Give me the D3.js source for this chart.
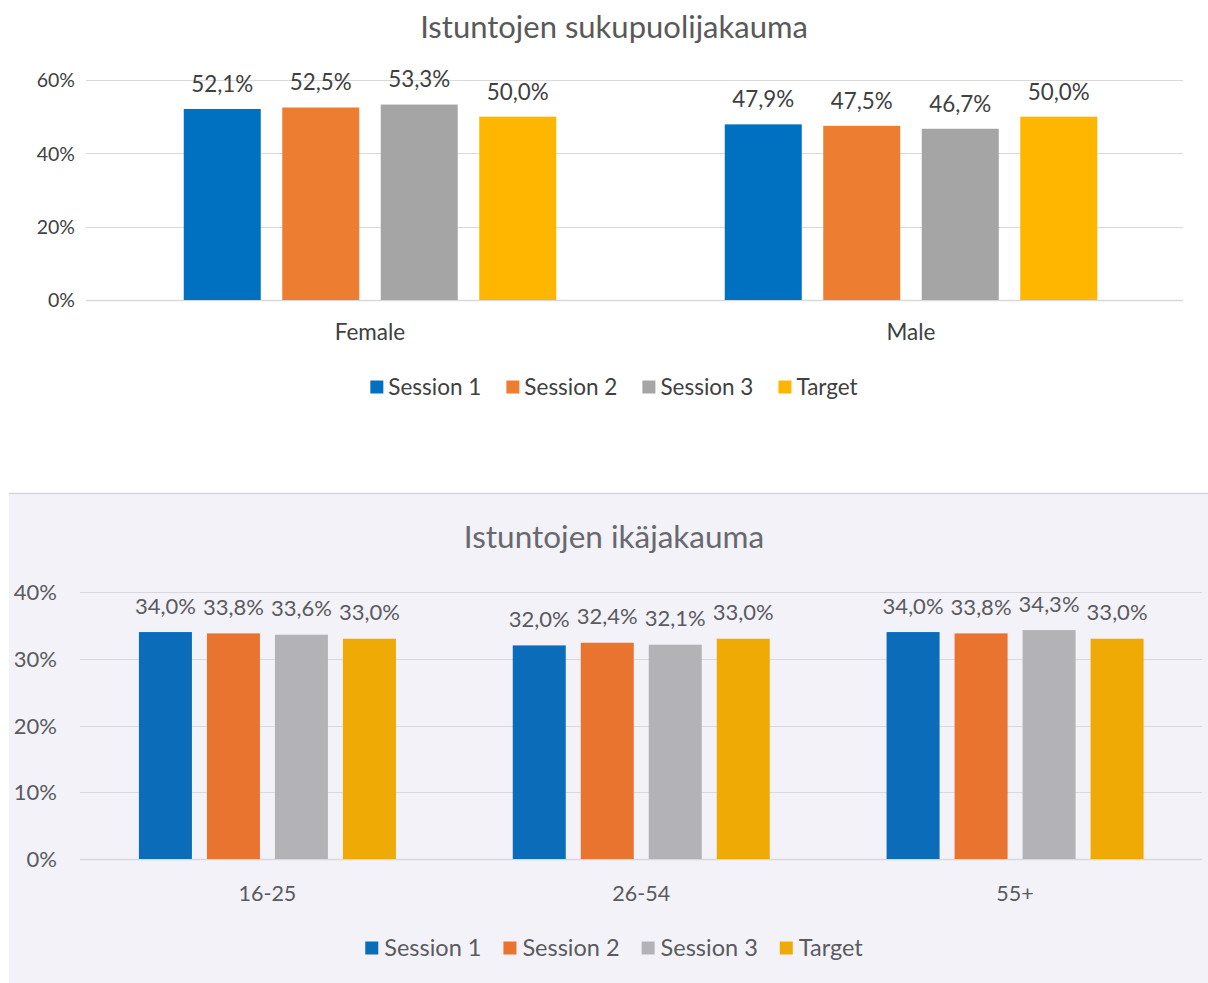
<!DOCTYPE html>
<html><head><meta charset="utf-8">
<script src="https://cdn.jsdelivr.net/npm/d3@7"></script>
<style>
html,body{margin:0;padding:0;background:#fff;}
svg{display:block;}
text{font-family:Lato,"Open Sans",sans-serif;}
</style></head>
<body>
<svg id="c" width="1208" height="983"></svg>
<script>
const seriesNames = ["Session 1","Session 2","Session 3","Target"];
const genderCategories = ["Female","Male"];
const genderSession1 = [52.1, 47.9];
const genderSession2 = [52.5, 47.5];
const genderSession3 = [53.3, 46.7];
const genderTarget = [50.0, 50.0];
const genderTicks = [0,20,40,60];

const ageCategories = ["16-25","26-54","55+"];
const ageSession1 = [34.0, 32.0, 34.0];
const ageSession2 = [33.8, 32.4, 33.8];
const ageSession3 = [33.6, 32.1, 34.3];
const ageTarget = [33.0, 33.0, 33.0];
const ageTicks = [0,10,20,30,40];

const topColors = ["#0070C0","#ED7D31","#A5A5A5","#FFB600"];
const botColors = ["#0B6DBA","#E8742F","#B2B2B7","#EFAA05"];

const svg = d3.select("#c");
const fmt = v => d3.format(".1f")(v).replace(".", ",") + "%";

function drawChart(g, cfg){
  const {cats, series, ticks, colors, x0, x1, gx0, gx1, y0, yMax, yTop, barW, step,
         title, titleY, titleColor, titleSize, tickSize, dataSize, catSize, legSize, tickX, catY, legY,
         gridColor, textColor, labelOff, legGap, legItemGap} = cfg;
  const x = d3.scaleBand().domain(cats).range([x0, x1]).padding(0);
  const y = d3.scaleLinear().domain([0, yMax]).range([y0, yTop]);
  g.append("text").attr("x", 614).attr("y", titleY).attr("text-anchor","middle")
    .attr("font-size", titleSize).attr("fill", titleColor).text(title);
  const axis = d3.axisLeft(y).tickValues(ticks).tickFormat(d => d + "%").tickSize(0).tickPadding(0);
  const ag = g.append("g").attr("transform", `translate(${tickX},0)`).call(axis);
  ag.select(".domain").remove();
  ag.selectAll("text").attr("font-size", tickSize).attr("fill", textColor)
    .attr("font-family","Lato,'Open Sans',sans-serif").attr("dy","0.35em");
  g.selectAll(".grid").data(ticks).join("line")
    .attr("x1", gx0).attr("x2", gx1).attr("y1", d => Math.round(y(d))+0.5).attr("y2", d => Math.round(y(d))+0.5)
    .attr("stroke", gridColor).attr("stroke-width", d => d===0 ? 1.5 : 1.2);
  const groupW = series.length*barW + (series.length-1)*(step-barW);
  series.forEach((vals, si) => {
    const gs = g.append("g");
    gs.selectAll("rect").data(vals).join("rect")
      .attr("x", (d,i) => x(cats[i]) + x.bandwidth()/2 - groupW/2 + si*step)
      .attr("y", d => y(d)).attr("width", barW).attr("height", d => y0 - y(d))
      .attr("fill", colors[si]);
    gs.selectAll("text").data(vals).join("text")
      .attr("x", (d,i) => x(cats[i]) + x.bandwidth()/2 - groupW/2 + si*step + barW/2)
      .attr("y", d => y(d) - labelOff).attr("dy","0.35em").attr("text-anchor","middle")
      .attr("font-size", dataSize).attr("fill", textColor).text(fmt);
  });
  g.selectAll(".cat").data(cats).join("text")
    .attr("x", d => x(d) + x.bandwidth()/2).attr("y", catY).attr("text-anchor","middle")
    .attr("dy","0.35em").attr("font-size", catSize).attr("fill", textColor).text(d => d);
  const lg = g.append("g");
  const items = [];
  let cx = 0;
  const tmp = lg.append("text").attr("font-size", legSize);
  seriesNames.forEach((n,i) => {
    tmp.text(n);
    const w = tmp.node().getComputedTextLength();
    items.push({n, x: cx, c: colors[i]});
    cx += 13 + legGap + w + legItemGap;
  });
  tmp.remove();
  const total = cx - legItemGap;
  const lx = 614 - total/2;
  items.forEach(it => {
    lg.append("rect").attr("x", lx + it.x).attr("y", legY - 6.5).attr("width", 13).attr("height", 13).attr("fill", it.c);
    lg.append("text").attr("x", lx + it.x + 13 + legGap).attr("y", legY).attr("dy","0.35em")
      .attr("font-size", legSize).attr("fill", textColor).text(it.n);
  });
}

svg.append("rect").attr("x", 9).attr("y", 493).attr("width", 1199).attr("height", 490).attr("fill", "#F3F2F8");
svg.append("line").attr("x1", 9).attr("x2", 1208).attr("y1", 493.5).attr("y2", 493.5).attr("stroke", "#D6D6DA").attr("stroke-width", 1.5);

drawChart(svg.append("g"), {
  cats: genderCategories,
  series: [genderSession1, genderSession2, genderSession3, genderTarget],
  ticks: genderTicks, colors: topColors,
  x0: 99.5, x1: 1181.5, gx0: 86, gx1: 1183, y0: 300, yMax: 60, yTop: 80,
  barW: 77, step: 98.5, title: "Istuntojen sukupuolijakauma", titleY: 38, titleColor: "#595959",
  titleSize: 31, tickSize: 19.5, dataSize: 22.4, catSize: 22.5, legSize: 22.5,
  tickX: 75, catY: 332, legY: 387, gridColor: "#D9D9D9",
  textColor: "#404040", labelOff: 25, legGap: 5, legItemGap: 25
});

drawChart(svg.append("g"), {
  cats: ageCategories,
  series: [ageSession1, ageSession2, ageSession3, ageTarget],
  ticks: ageTicks, colors: botColors,
  x0: 80.5, x1: 1202, gx0: 80, gx1: 1202, y0: 859, yMax: 40, yTop: 592,
  barW: 53, step: 68, title: "Istuntojen ikäjakauma", titleY: 548, titleColor: "#68686E",
  titleSize: 31.5, tickSize: 22, dataSize: 22, catSize: 21.5, legSize: 23.5,
  tickX: 57, catY: 893, legY: 948, gridColor: "#D8D8DE",
  textColor: "#5A5A60", labelOff: 26, legGap: 6, legItemGap: 22
});
</script>
</body></html>
